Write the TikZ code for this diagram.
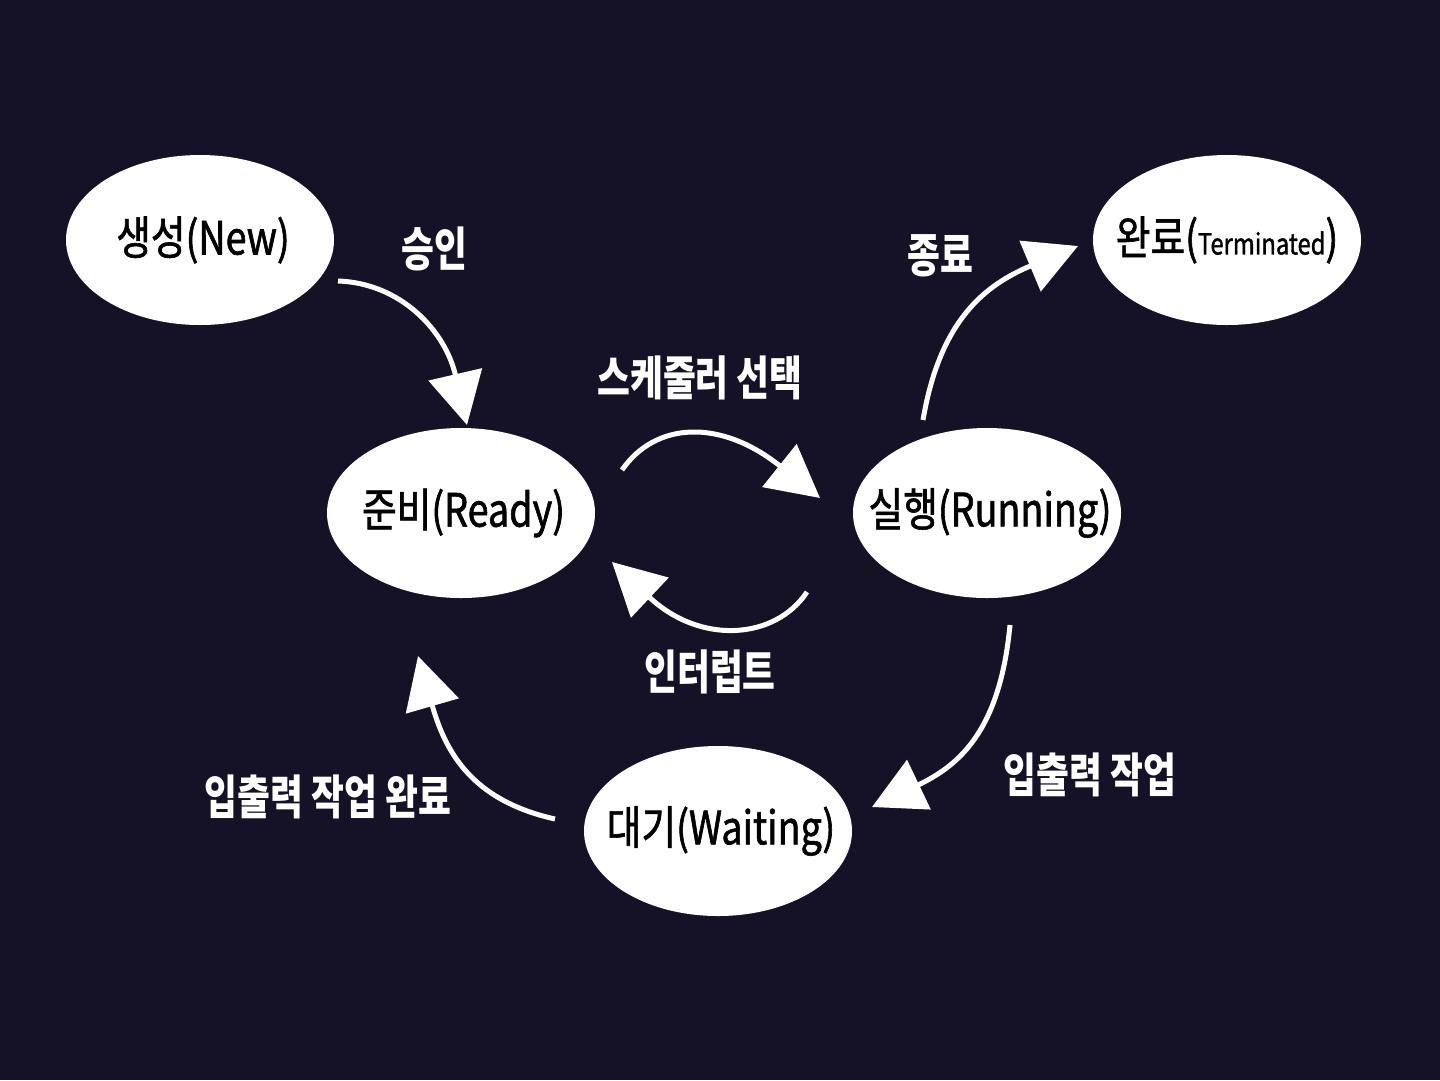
\documentclass[tikz,border=0pt]{standalone}
\usepackage{fontspec}
\usetikzlibrary{arrows.meta,shapes.geometric,calc}
\newfontfamily\krnode[FakeStretch=0.82,FakeBold=1.3]{Noto Sans CJK KR}
\newfontfamily\krlab[FakeStretch=0.76]{Noto Sans CJK KR}
\definecolor{bgnavy}{RGB}{21,18,40}
\tikzset{
  state/.style={ellipse, fill=white, draw=none, minimum width=268pt, minimum height=170pt,
    inner sep=0pt, text=black, font=\krnode\fontsize{46}{50}\selectfont},
  lab/.style={text=white, font=\krlab\bfseries\fontsize{47}{50}\selectfont, inner sep=0pt},
  conn/.style={draw=white, line width=5pt, -{Triangle[length=52pt,width=54pt]}, fill=none}
}
\begin{document}
\begin{tikzpicture}[x=1pt,y=-1pt]
\fill[bgnavy] (0,0) rectangle (1440,1080);
\useasboundingbox (0,0) rectangle (1440,1080);

\node[state] (new)  at (200,240) {\makebox[0pt]{\hspace{6pt}생성(New)}};
\node[state] (term) at (1227,240) {\makebox[0pt]{완료(\fontsize{29}{30}\selectfont Terminated\fontsize{46}{50}\selectfont)}};
\node[state] (ready) at (461,513) {\makebox[0pt]{\hspace{5pt}준비(Ready)}};
\node[state] (run)  at (987,513) {\makebox[0pt]{\hspace{6pt}실행(Running)}};
\node[state] (wait) at (718,831) {\makebox[0pt]{\hspace{6pt}대기(Waiting)}};

\draw[conn] ($(new)+(138,41)$) .. controls (400,283) and (445,330) .. ($(ready)+(6,-88)$);
\draw[conn] ($(ready)+(161,-43)$) .. controls (655,422) and (720,418) .. ($(run)+(-167,-15)$);
\draw[conn] ($(run)+(-180,79)$) .. controls (775,640) and (700,645) .. ($(ready)+(151,49)$);
\draw[conn] ($(run)+(-64,-93)$) .. controls (940,320) and (985,285) .. ($(term)+(-149,6)$);
\draw[conn] ($(run)+(23,112)$) .. controls (1000,730) and (960,765) .. ($(wait)+(154,-24)$);
\draw[conn] ($(wait)+(-163,-12)$) .. controls (470,800) and (445,750) .. ($(ready)+(-43,143)$);

\node[lab] (l1) at (434,249) {승인};
\node[lab] (l2) at (700,378) {스케줄러 선택};
\node[lab] (l3) at (710,672) {인터럽트};
\node[lab] (l4) at (940,256) {종료};
\node[lab] (l5) at (1090,775) {입출력 작업};
\node[lab] (l6) at (328,797) {입출력 작업 완료};
\end{tikzpicture}
\end{document}
